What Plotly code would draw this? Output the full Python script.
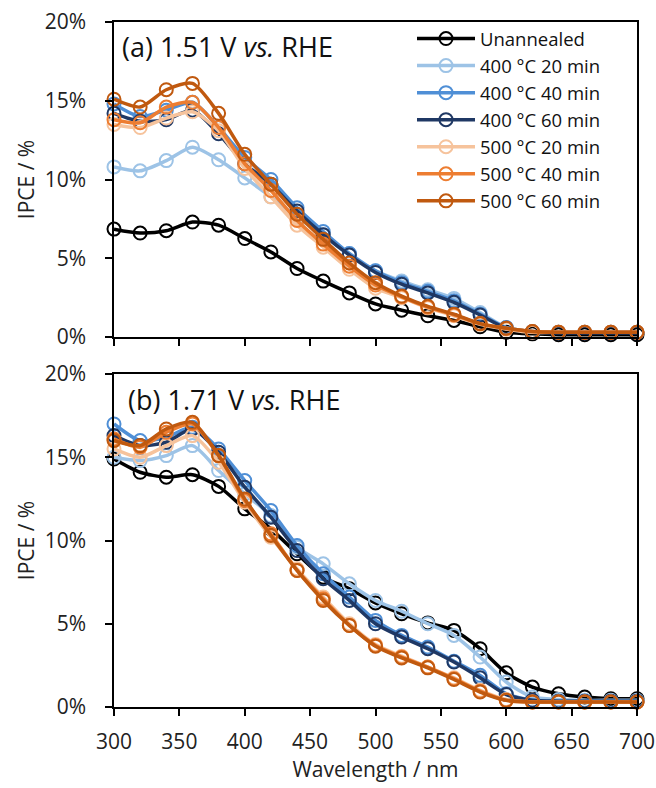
import plotly.graph_objects as go
from plotly.subplots import make_subplots

wavelength = [300, 320, 340, 360, 380, 400, 420, 440, 460, 480, 500,
              520, 540, 560, 580, 600, 620, 640, 660, 680, 700]

series_names = ["Unannealed", "400 °C 20 min", "400 °C 40 min", "400 °C 60 min",
                "500 °C 20 min", "500 °C 40 min", "500 °C 60 min"]

colors = ["#000000", "#9DC3E6", "#4F8FD6", "#1F3864",
          "#F6C39C", "#ED7D31", "#C0590F"]

# Panel (a) 1.51 V vs. RHE  (IPCE in %)
a_unannealed = [6.85, 6.6, 6.75, 7.3, 7.1, 6.25, 5.4, 4.35, 3.55, 2.8, 2.1, 1.7, 1.35, 1.05, 0.65, 0.3, 0.2, 0.15, 0.15, 0.15, 0.15]
a_400_20 = [10.8, 10.55, 11.2, 12.05, 11.25, 10.1, 8.9, 7.6, 6.5, 5.3, 4.2, 3.55, 3.0, 2.45, 1.55, 0.6, 0.35, 0.3, 0.3, 0.3, 0.3]
a_400_40 = [14.8, 14.0, 14.4, 14.9, 13.3, 11.4, 10.0, 8.2, 6.7, 5.3, 4.2, 3.45, 2.9, 2.3, 1.45, 0.6, 0.35, 0.3, 0.3, 0.3, 0.3]
a_400_60 = [14.2, 13.7, 13.8, 14.4, 12.9, 11.0, 9.7, 8.0, 6.5, 5.2, 4.1, 3.35, 2.8, 2.2, 1.4, 0.55, 0.3, 0.25, 0.25, 0.25, 0.25]
a_500_20 = [13.5, 13.3, 13.9, 14.3, 13.1, 10.7, 8.9, 7.1, 5.7, 4.3, 3.1, 2.5, 1.85, 1.35, 0.8, 0.5, 0.3, 0.3, 0.3, 0.3, 0.3]
a_500_40 = [13.8, 13.6, 14.6, 14.9, 13.3, 11.0, 9.3, 7.4, 5.9, 4.5, 3.3, 2.55, 1.9, 1.4, 0.85, 0.55, 0.35, 0.3, 0.3, 0.3, 0.3]
a_500_60 = [15.1, 14.6, 15.7, 16.1, 14.2, 11.6, 9.7, 7.8, 6.2, 4.7, 3.45, 2.6, 1.95, 1.45, 0.85, 0.55, 0.35, 0.3, 0.3, 0.3, 0.3]

# Panel (b) 1.71 V vs. RHE  (IPCE in %)
b_unannealed = [14.9, 14.1, 13.8, 13.95, 13.25, 11.9, 10.7, 9.2, 7.8, 7.1, 6.25, 5.6, 5.05, 4.6, 3.5, 2.05, 1.2, 0.8, 0.6, 0.5, 0.5]
b_400_20 = [15.0, 14.8, 15.1, 15.7, 14.2, 12.8, 11.5, 9.6, 8.6, 7.4, 6.4, 5.75, 5.0, 4.3, 3.0, 1.5, 0.6, 0.45, 0.4, 0.4, 0.4]
b_400_40 = [17.0, 16.0, 16.2, 16.8, 15.5, 13.6, 11.8, 9.7, 8.0, 6.6, 5.2, 4.3, 3.6, 2.75, 1.9, 0.8, 0.4, 0.35, 0.35, 0.35, 0.35]
b_400_60 = [16.3, 15.7, 15.9, 16.7, 15.3, 13.2, 11.4, 9.4, 7.7, 6.4, 5.0, 4.2, 3.5, 2.7, 1.75, 0.75, 0.4, 0.35, 0.35, 0.35, 0.35]
b_500_20 = [15.5, 15.0, 15.7, 16.3, 14.7, 12.3, 10.2, 8.3, 6.6, 5.0, 3.75, 3.05, 2.4, 1.75, 1.0, 0.45, 0.3, 0.3, 0.3, 0.3, 0.3]
b_500_40 = [16.1, 15.6, 16.5, 17.0, 15.1, 12.4, 10.4, 8.2, 6.5, 4.9, 3.7, 3.0, 2.4, 1.7, 0.95, 0.4, 0.3, 0.3, 0.3, 0.3, 0.3]
b_500_60 = [16.0, 15.7, 16.7, 17.1, 15.1, 12.5, 10.3, 8.2, 6.4, 4.9, 3.65, 2.95, 2.35, 1.65, 0.9, 0.4, 0.3, 0.3, 0.3, 0.3, 0.3]

panel_a = [a_unannealed, a_400_20, a_400_40, a_400_60, a_500_20, a_500_40, a_500_60]
panel_b = [b_unannealed, b_400_20, b_400_40, b_400_60, b_500_20, b_500_40, b_500_60]

x_ticks = [300, 350, 400, 450, 500, 550, 600, 650, 700]
y_ticks = [0, 5, 10, 15, 20]
y_tick_labels = ["0%", "5%", "10%", "15%", "20%"]

FONT = "Open Sans"
W, H = 656, 788
L, R, T, B = 114, 19, 22, 81
plot_w = W - L - R
plot_h = H - T - B
a_h, b_h = 315, 333

fig = make_subplots(rows=2, cols=1)

for row, panel in ((1, panel_a), (2, panel_b)):
    for name, col, vals in zip(series_names, colors, panel):
        fig.add_trace(go.Scatter(
            x=wavelength, y=vals, name=name, mode="lines+markers",
            line=dict(color=col, width=3.5, shape="spline", smoothing=0.7),
            marker=dict(symbol="circle-open", size=13, color=col,
                        line=dict(width=2, color=col)),
            cliponaxis=False, showlegend=(row == 1),
        ), row=row, col=1)

axis_common = dict(showline=True, linecolor="black", linewidth=1.5, mirror=True,
                   ticks="outside", ticklen=7, tickwidth=1.5, tickcolor="black",
                   showgrid=False, zeroline=False, automargin=False,
                   tickfont=dict(family=FONT, size=21, color="#222"))

fig.update_xaxes(range=[300, 700], tickvals=x_ticks, **axis_common)
fig.update_yaxes(range=[0, 20], tickvals=y_ticks, ticktext=y_tick_labels, **axis_common)
fig.update_xaxes(showticklabels=False, row=1, col=1)
fig.update_xaxes(ticklabelstandoff=8,
                 title=dict(text="Wavelength / nm", font=dict(family=FONT, size=21, color="#222"),
                            standoff=1), row=2, col=1)
for r in (1, 2):
    fig.update_yaxes(ticklabelstandoff=15,
                     title=dict(text="IPCE / %", font=dict(family=FONT, size=21, color="#222"),
                                standoff=4), row=r, col=1)

fig.update_layout(
    width=W, height=H,
    margin=dict(l=L, r=R, t=T, b=B, autoexpand=False),
    paper_bgcolor="white", plot_bgcolor="white",
    yaxis=dict(domain=[1 - a_h / plot_h, 1]),
    yaxis2=dict(domain=[0, b_h / plot_h]),
    legend=dict(x=(412 - L) / plot_w, xanchor="left", y=1 + 2 / plot_h, yanchor="top",
                font=dict(family=FONT, size=18.5, color="#111"),
                bgcolor="rgba(0,0,0,0)", itemwidth=58, tracegroupgap=0),
    showlegend=True,
)

fig.add_annotation(text="(a) 1.51 V <i>vs.</i> RHE", xref="paper", yref="paper",
                   x=(120 - L) / plot_w, y=1 - (47 - T) / plot_h, xanchor="left", yanchor="middle",
                   showarrow=False, font=dict(family=FONT, size=27, color="#111"))
fig.add_annotation(text="(b) 1.71 V <i>vs.</i> RHE", xref="paper", yref="paper",
                   x=(126 - L) / plot_w, y=1 - (399 - T) / plot_h, xanchor="left", yanchor="middle",
                   showarrow=False, font=dict(family=FONT, size=27, color="#111"))

fig.write_html("out.html")
